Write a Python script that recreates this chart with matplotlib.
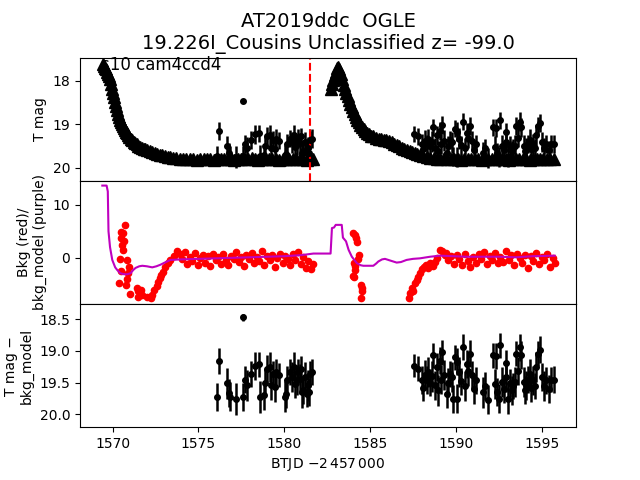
import matplotlib
matplotlib.use('Agg')
import matplotlib.pyplot as plt

# light curve (triangles), BTJD - 2457000 vs T mag
curve_1 = [(1569.42, 17.62), (1569.48, 17.66), (1569.54, 17.70), (1569.60, 17.74), (1569.66, 17.79),
           (1569.72, 17.84), (1569.78, 17.89), (1569.84, 17.97), (1569.90, 18.07), (1569.96, 18.18),
           (1570.02, 18.28), (1570.08, 18.38), (1570.14, 18.49), (1570.20, 18.59), (1570.26, 18.68),
           (1570.32, 18.76), (1570.38, 18.84), (1570.44, 18.90), (1570.50, 18.95), (1570.56, 19.00),
           (1570.62, 19.04), (1570.68, 19.08), (1570.74, 19.13), (1570.80, 19.17), (1570.86, 19.21),
           (1570.92, 19.25), (1570.98, 19.29), (1571.06, 19.33), (1571.14, 19.37), (1571.22, 19.40),
           (1571.30, 19.43), (1571.40, 19.46), (1571.50, 19.49), (1571.60, 19.52), (1571.70, 19.54),
           (1571.80, 19.56), (1571.90, 19.58), (1572.00, 19.59), (1572.15, 19.61), (1572.30, 19.63),
           (1572.45, 19.66), (1572.60, 19.68), (1572.75, 19.70), (1572.90, 19.71), (1573.05, 19.73),
           (1573.20, 19.75), (1573.35, 19.76), (1573.50, 19.77), (1573.70, 19.78), (1573.90, 19.79),
           (1574.1, 19.80), (1574.3, 19.81), (1574.5, 19.79), (1574.7, 19.80), (1574.9, 19.82),
           (1575.1, 19.80), (1575.3, 19.79), (1575.5, 19.81), (1575.7, 19.80), (1575.9, 19.82),
           (1576.1, 19.79), (1576.3, 19.80), (1576.5, 19.81), (1576.7, 19.79), (1576.9, 19.80),
           (1577.1, 19.82), (1577.3, 19.80), (1577.5, 19.79), (1577.7, 19.81), (1577.9, 19.80),
           (1578.1, 19.78), (1578.3, 19.80), (1578.5, 19.82), (1578.7, 19.79), (1578.9, 19.80),
           (1579.1, 19.81), (1579.3, 19.79), (1579.5, 19.80), (1579.7, 19.82), (1579.9, 19.80),
           (1580.1, 19.79), (1580.3, 19.81), (1580.5, 19.80), (1580.7, 19.79), (1580.9, 19.81),
           (1581.1, 19.80), (1581.3, 19.82), (1581.5, 19.79), (1581.7, 19.80)]

curve_2 = [(1582.70, 18.18), (1582.78, 18.08), (1582.86, 17.98), (1582.94, 17.88), (1583.02, 17.79),
           (1583.10, 17.72), (1583.16, 17.69), (1583.22, 17.74), (1583.30, 17.85), (1583.38, 17.97),
           (1583.46, 18.09), (1583.54, 18.19), (1583.62, 18.28), (1583.70, 18.36), (1583.78, 18.44),
           (1583.86, 18.53), (1583.94, 18.61), (1584.02, 18.69), (1584.10, 18.76), (1584.18, 18.83),
           (1584.26, 18.90), (1584.34, 18.96), (1584.42, 19.02), (1584.52, 19.07), (1584.62, 19.12),
           (1584.72, 19.16), (1584.84, 19.20), (1584.96, 19.23), (1585.08, 19.26), (1585.20, 19.28),
           (1585.35, 19.31), (1585.50, 19.33), (1585.65, 19.35), (1585.80, 19.36), (1585.95, 19.37),
           (1586.10, 19.39), (1586.25, 19.42), (1586.40, 19.45), (1586.55, 19.48), (1586.70, 19.51),
           (1586.85, 19.54), (1587.00, 19.56), (1587.15, 19.59), (1587.30, 19.61), (1587.45, 19.64),
           (1587.60, 19.67), (1587.75, 19.69), (1587.90, 19.71), (1588.10, 19.73), (1588.30, 19.75),
           (1588.50, 19.77), (1588.70, 19.78),
           (1588.9, 19.79), (1589.1, 19.80), (1589.3, 19.78), (1589.5, 19.80), (1589.7, 19.81),
           (1589.9, 19.79), (1590.1, 19.80), (1590.3, 19.82), (1590.5, 19.79), (1590.7, 19.80),
           (1590.9, 19.81), (1591.1, 19.79), (1591.3, 19.80), (1591.5, 19.82), (1591.7, 19.80),
           (1591.9, 19.79), (1592.1, 19.81), (1592.3, 19.80), (1592.5, 19.79), (1592.7, 19.81),
           (1592.9, 19.80), (1593.1, 19.82), (1593.3, 19.79), (1593.5, 19.80), (1593.7, 19.81),
           (1593.9, 19.79), (1594.1, 19.80), (1594.3, 19.82), (1594.5, 19.80), (1594.7, 19.79),
           (1594.9, 19.81), (1595.1, 19.80), (1595.3, 19.79), (1595.5, 19.81), (1595.7, 19.80)]

# points with error bars (T mag - bkg_model)
det = [(1576.10, 19.72, 0.22), (1576.22, 19.16, 0.20), (1576.67, 19.51, 0.24), (1576.78, 19.66, 0.22),
       (1576.85, 19.72, 0.23), (1577.17, 19.76, 0.25), (1577.58, 18.47, 0.05), (1577.60, 19.72, 0.22),
       (1577.70, 19.45, 0.21), (1577.85, 19.54, 0.24), (1578.04, 19.36, 0.20), (1578.28, 19.23, 0.22),
       (1578.51, 19.21, 0.20), (1578.60, 19.72, 0.25), (1578.80, 19.70, 0.23), (1578.88, 19.50, 0.22),
       (1578.97, 19.28, 0.21), (1579.19, 19.25, 0.24), (1579.25, 19.54, 0.23), (1579.36, 19.36, 0.20),
       (1579.44, 19.57, 0.24), (1579.50, 19.33, 0.21), (1579.72, 19.38, 0.19), (1580.06, 19.72, 0.24),
       (1580.12, 19.68, 0.22), (1580.18, 19.46, 0.23), (1580.35, 19.33, 0.20), (1580.45, 19.41, 0.24),
       (1580.54, 19.25, 0.23), (1580.62, 19.52, 0.22), (1580.72, 19.46, 0.24), (1580.80, 19.33, 0.21),
       (1580.90, 19.44, 0.23), (1580.95, 19.28, 0.20), (1581.03, 19.65, 0.24), (1581.12, 19.62, 0.22),
       (1581.22, 19.41, 0.23), (1581.30, 19.67, 0.21), (1581.36, 19.54, 0.24), (1581.42, 19.65, 0.22),
       (1581.51, 19.36, 0.20), (1581.60, 19.33, 0.21),
       (1587.56, 19.23, 0.18), (1587.81, 19.28, 0.20), (1588.02, 19.45, 0.22), (1588.06, 19.58, 0.21),
       (1588.20, 19.38, 0.24), (1588.29, 19.46, 0.22), (1588.39, 19.33, 0.23), (1588.50, 19.50, 0.21),
       (1588.60, 19.40, 0.24), (1588.68, 19.07, 0.20), (1588.78, 19.54, 0.23), (1588.88, 19.25, 0.22),
       (1588.97, 19.62, 0.24), (1589.07, 19.15, 0.21), (1589.15, 19.45, 0.23), (1589.22, 19.02, 0.20),
       (1589.30, 19.38, 0.24), (1589.46, 19.67, 0.22), (1589.55, 19.50, 0.23), (1589.65, 19.36, 0.21),
       (1589.75, 19.41, 0.24), (1589.84, 19.75, 0.22), (1589.94, 19.10, 0.20), (1590.04, 19.75, 0.23),
       (1590.08, 19.17, 0.21), (1590.19, 19.33, 0.24), (1590.30, 19.48, 0.22), (1590.43, 18.94, 0.20),
       (1590.52, 19.55, 0.23), (1590.62, 19.20, 0.22), (1590.72, 19.31, 0.24), (1590.85, 19.04, 0.21),
       (1590.95, 19.38, 0.22), (1591.05, 19.60, 0.23), (1591.20, 19.46, 0.21), (1591.59, 19.65, 0.24),
       (1591.70, 19.55, 0.22), (1591.88, 19.77, 0.23), (1592.14, 19.07, 0.20), (1592.27, 19.52, 0.24),
       (1592.36, 19.08, 0.21), (1592.40, 19.65, 0.22), (1592.52, 19.75, 0.23), (1592.56, 18.91, 0.20),
       (1592.66, 19.49, 0.24), (1592.80, 19.60, 0.22), (1592.91, 19.41, 0.23), (1592.95, 19.19, 0.21),
       (1593.04, 19.75, 0.24), (1593.14, 19.50, 0.22), (1593.25, 19.62, 0.23), (1593.35, 19.55, 0.21),
       (1593.43, 19.49, 0.24), (1593.53, 19.04, 0.20), (1593.62, 19.31, 0.22), (1593.72, 18.94, 0.21),
       (1593.82, 19.07, 0.22), (1593.95, 19.49, 0.24), (1594.02, 19.62, 0.22), (1594.11, 19.54, 0.23),
       (1594.20, 19.45, 0.21), (1594.30, 19.36, 0.24), (1594.40, 19.58, 0.22), (1594.49, 19.46, 0.23),
       (1594.60, 19.55, 0.21), (1594.69, 19.25, 0.24), (1594.79, 19.04, 0.20), (1594.92, 18.98, 0.21),
       (1595.04, 19.41, 0.22), (1595.15, 19.55, 0.23), (1595.27, 19.46, 0.21), (1595.40, 19.60, 0.22),
       (1595.56, 19.45, 0.20), (1595.70, 19.45, 0.21)]

# background flux (red points)
bkg = [(1570.70, 6.2), (1570.50, 4.8), (1570.60, 4.6), (1570.47, 3.7), (1570.66, 3.1), (1570.56, 2.5),
       (1570.62, 1.5), (1570.43, -0.3), (1570.85, -0.5), (1570.47, -2.4), (1570.95, -1.8), (1570.90, -2.8),
       (1570.37, -4.7), (1570.81, -4.0), (1570.76, -5.1), (1571.01, -6.8), (1571.44, -5.7), (1571.50, -6.3),
       (1571.63, -6.0), (1571.47, -7.3), (1571.73, -7.0), (1572.02, -7.4), (1572.21, -7.6), (1572.31, -7.0),
       (1572.44, -6.0), (1572.56, -5.4), (1572.64, -4.5), (1572.75, -3.8), (1572.83, -3.2), (1572.95, -2.6),
       (1573.08, -1.8), (1573.22, -1.0), (1573.37, -0.4), (1573.57, 0.3), (1573.76, 1.2),
       (1573.90, 0.8), (1574.05, -0.3), (1574.20, 1.1), (1574.35, -1.2), (1574.50, 0.2), (1574.65, -0.6),
       (1574.80, 0.9), (1574.95, -1.4), (1575.10, -0.1), (1575.25, 0.6), (1575.40, -0.9), (1575.55, 0.3),
       (1575.70, -1.6), (1575.85, 0.7), (1576.00, -0.4), (1576.15, 0.1), (1576.30, -1.1), (1576.45, 0.8),
       (1576.60, -0.5), (1576.75, -1.3), (1576.90, 0.4), (1577.05, -0.2), (1577.20, 1.0), (1577.35, -0.8),
       (1577.50, 0.2), (1577.65, -1.5), (1577.80, 0.5), (1577.95, -0.3), (1578.10, 0.9), (1578.25, -1.0),
       (1578.40, 0.1), (1578.55, -0.6), (1578.70, 1.2), (1578.85, -1.3), (1579.00, 0.3), (1579.15, -0.4),
       (1579.30, 0.6), (1579.45, -1.7), (1579.60, 0.0), (1579.75, 0.8), (1579.90, -0.9), (1580.05, 0.4),
       (1580.20, -0.2), (1580.35, -1.4), (1580.50, 0.7), (1580.65, -0.5), (1580.80, 1.1), (1580.95, -1.1),
       (1581.10, 0.2), (1581.25, -1.9), (1581.40, -0.6), (1581.55, -2.1), (1581.70, -1.2),
       (1584.03, 4.7), (1584.10, 4.2), (1584.18, 3.7), (1584.25, 3.0), (1584.35, 0.6), (1584.32, -0.2),
       (1584.05, -0.9), (1584.10, -1.6), (1584.13, -2.3), (1584.00, -3.5), (1584.08, -3.7), (1584.50, -5.1),
       (1584.56, -5.7), (1584.52, -6.2), (1584.48, -7.6),
       (1587.29, -7.6), (1587.33, -6.7), (1587.42, -5.7), (1587.52, -6.3), (1587.62, -4.8), (1587.71, -4.2),
       (1587.81, -3.6), (1587.91, -2.9), (1588.00, -2.1), (1588.14, -1.8), (1588.26, -1.3), (1588.39, -1.9),
       (1588.49, -1.0), (1588.64, -1.6), (1588.78, -0.7), (1588.90, -0.1), (1589.07, 1.5), (1589.22, 1.2),
       (1589.36, 0.6),
       (1589.40, 0.9), (1589.56, -0.4), (1589.72, 0.3), (1589.88, -1.1), (1590.04, 0.6), (1590.20, -0.2),
       (1590.36, -1.3), (1590.52, 0.8), (1590.68, -0.6), (1590.84, -1.8), (1591.00, 0.2), (1591.16, -0.9),
       (1591.32, 0.7), (1591.48, -0.3), (1591.64, 1.1), (1591.80, -1.2), (1591.96, 0.4), (1592.12, -0.5),
       (1592.28, 0.9), (1592.44, -1.0), (1592.60, 0.1), (1592.76, -0.7), (1592.92, 1.2), (1593.08, -0.4),
       (1593.24, 0.5), (1593.40, -1.3), (1593.56, 0.8), (1593.72, -0.1), (1593.88, -0.9), (1594.04, 0.6),
       (1594.20, -1.9), (1594.36, 0.3), (1594.52, -0.6), (1594.68, 0.9), (1594.84, -1.1), (1595.00, 0.2),
       (1595.16, -0.4), (1595.32, 0.7), (1595.48, -1.8), (1595.64, 0.0), (1595.80, -1.0)]

# background model (purple line)
bkg_model = [(1569.40, 13.6), (1569.65, 13.6), (1569.72, 12.5), (1569.76, 5.0), (1569.85, 2.0),
             (1569.98, -0.4), (1570.15, -1.8), (1570.27, -2.3), (1570.45, -2.9), (1570.66, -3.1),
             (1570.85, -3.1), (1571.05, -2.9), (1571.20, -2.3), (1571.34, -1.9), (1571.55, -1.6),
             (1571.73, -1.5), (1572.00, -1.6), (1572.31, -1.8), (1572.55, -1.6), (1572.79, -1.3),
             (1573.10, -0.8), (1573.37, -0.4), (1574.0, -0.3), (1575.0, -0.2), (1576.0, -0.1),
             (1577.0, 0.0), (1578.0, 0.1), (1579.0, 0.2), (1580.0, 0.3), (1581.0, 0.5), (1581.7, 0.8),
             (1582.7, 0.8), (1582.78, 5.6), (1582.9, 5.7), (1583.0, 6.2), (1583.35, 6.2), (1583.42, 3.8),
             (1583.6, 3.1), (1583.75, 1.5), (1583.94, 0.2), (1584.23, -1.0), (1584.45, -1.4),
             (1584.61, -1.5), (1585.19, -1.5), (1585.35, -1.1), (1585.48, -0.7), (1585.70, -0.3),
             (1585.87, -0.2), (1586.16, -0.5), (1586.55, -0.9), (1586.80, -0.8), (1587.13, -0.4),
             (1587.50, -0.2), (1587.91, -0.1), (1588.5, 0.2), (1589.07, 0.4), (1590.62, 0.2),
             (1592.56, 0.2), (1593.5, 0.1), (1594.5, 0.3), (1595.76, 0.4)]

t_cut = 1581.5

c1_t, c1_m = zip(*curve_1)
c2_t, c2_m = zip(*curve_2)
d_t, d_m, d_e = zip(*det)
b_t, b_v = zip(*bkg)
m_t, m_v = zip(*bkg_model)

fig, axs = plt.subplots(3, 1, sharex=True, figsize=(6.4, 4.8))
fig.subplots_adjust(hspace=0)

# top panel
ax = axs[0]
ax.plot(c1_t, c1_m, '^', color='k', ms=8)
ax.plot(c2_t, c2_m, '^', color='k', ms=8)
ax.errorbar(d_t, d_m, yerr=d_e, fmt='o', color='k', ms=4, elinewidth=1.8)
ax.axvline(t_cut, color='r', ls='--', lw=1.5)
ax.set_ylim(20.30, 17.47)
ax.set_yticks([18, 19, 20])
ax.set_ylabel('T mag')
ax.set_title('AT2019ddc  OGLE\n19.226I_Cousins Unclassified z= -99.0', fontsize=14)
ax.text(0.042, 0.90, 's10 cam4ccd4', transform=ax.transAxes, fontsize=12)

# middle panel
ax = axs[1]
ax.plot(b_t, b_v, 'o', color='r', ms=4.5)
ax.plot(m_t, m_v, color='m', lw=1.5)
ax.set_ylim(-8.7, 14.5)
ax.set_yticks([0, 10])
ax.set_ylabel('Bkg (red)/\nbkg_model (purple)')

# bottom panel
ax = axs[2]
ax.errorbar(d_t, d_m, yerr=d_e, fmt='o', color='k', ms=4, elinewidth=1.8)
ax.set_ylim(20.2, 18.26)
ax.set_yticks([18.5, 19.0, 19.5, 20.0])
ax.set_ylabel('T mag \u2212\nbkg_model')
ax.set_xlim(1568.1, 1597.0)
ax.set_xticks([1570, 1575, 1580, 1585, 1590, 1595])
ax.set_xlabel(r'BTJD $-2\,457\,000$')

plt.savefig('out.png', dpi=100)
